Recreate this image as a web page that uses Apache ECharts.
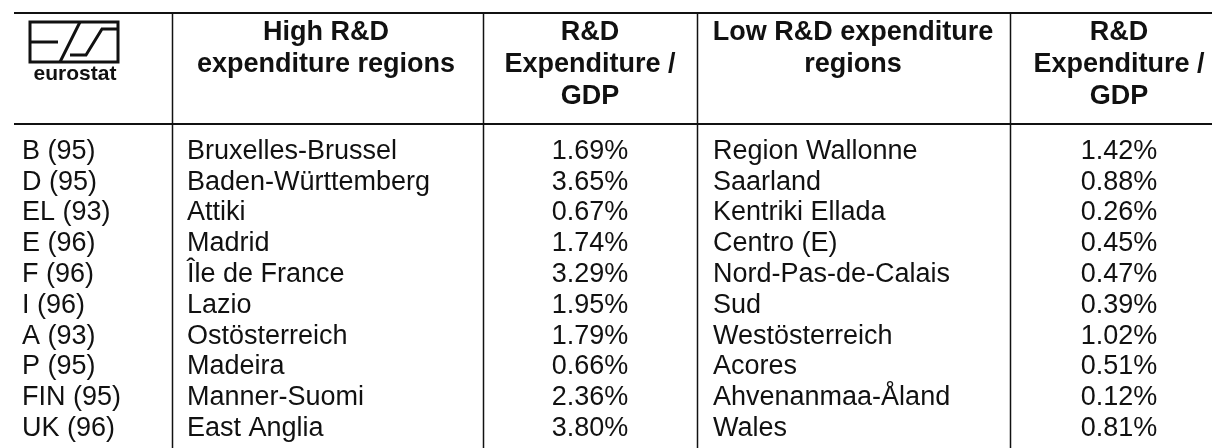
<!DOCTYPE html>
<html>
<head>
<meta charset="utf-8">
<script src="https://cdn.jsdelivr.net/npm/echarts@6/dist/echarts.min.js"></script>
<style>
html, body { margin: 0; padding: 0; background: #fff; }
#main { width: 1214px; height: 448px; }
</style>
</head>
<body>
<div id="main"></div>
<script>
// table data
var countries = ['B (95)', 'D (95)', 'EL (93)', 'E (96)', 'F (96)', 'I (96)', 'A (93)', 'P (95)', 'FIN (95)', 'UK (96)'];
var highRegions = ['Bruxelles-Brussel', 'Baden-Württemberg', 'Attiki', 'Madrid', 'Île de France', 'Lazio', 'Ostösterreich', 'Madeira', 'Manner-Suomi', 'East Anglia'];
var highValues = [1.69, 3.65, 0.67, 1.74, 3.29, 1.95, 1.79, 0.66, 2.36, 3.80];
var lowRegions = ['Region Wallonne', 'Saarland', 'Kentriki Ellada', 'Centro (E)', 'Nord-Pas-de-Calais', 'Sud', 'Westösterreich', 'Acores', 'Ahvenanmaa-Åland', 'Wales'];
var lowValues = [1.42, 0.88, 0.26, 0.45, 0.47, 0.39, 1.02, 0.51, 0.12, 0.81];
var headers = [
    [],
    ['High R&D', 'expenditure regions'],
    ['R&D', 'Expenditure /', 'GDP'],
    ['Low R&D expenditure', 'regions'],
    ['R&D', 'Expenditure /', 'GDP']
];

// layout (px)
var FONT = '"Liberation Sans", Arial, Helvetica, sans-serif';
var colLines = [172, 483, 697, 1010];
var colText = [
    {x: 22, align: 'left'},
    {x: 187, align: 'left'},
    {x: 590, align: 'center'},
    {x: 713, align: 'left'},
    {x: 1119, align: 'center'}
];
var headerCenters = [0, 326, 590, 853, 1119];
var headerRows = [33, 65, 97];

function pct(v) { return v.toFixed(2) + '%'; }

var chart = echarts.init(document.getElementById('main'));

var graphics = [];
// horizontal rules
[13, 124].forEach(function (y) {
    graphics.push({
        type: 'line', silent: true,
        shape: {x1: 14, y1: y, x2: 1212, y2: y},
        style: {stroke: '#111', lineWidth: 2}
    });
});
// vertical rules
colLines.forEach(function (x) {
    graphics.push({
        type: 'line', silent: true,
        shape: {x1: x + 0.5, y1: 13, x2: x + 0.5, y2: 448},
        style: {stroke: '#111', lineWidth: 1.5}
    });
});
// header text
headers.forEach(function (lines, c) {
    lines.forEach(function (t, r) {
        graphics.push({
            type: 'text', silent: true,
            x: headerCenters[c], y: headerRows[r],
            style: {
                text: t, fill: '#111', textAlign: 'center', textVerticalAlign: 'middle',
                font: 'bold 27px ' + FONT
            }
        });
    });
});
// eurostat logo
graphics.push({
    type: 'group', silent: true, x: 30, y: 22,
    children: [
        {type: 'rect', shape: {x: 0, y: 0, width: 88, height: 40}, style: {fill: 'none', stroke: '#111', lineWidth: 3}},
        {type: 'line', shape: {x1: 0, y1: 20, x2: 28, y2: 20}, style: {stroke: '#111', lineWidth: 3}},
        {type: 'line', shape: {x1: 30, y1: 40, x2: 50, y2: 0}, style: {stroke: '#111', lineWidth: 3}},
        {type: 'polyline', shape: {points: [[40, 33], [56, 33], [72, 7], [88, 7]]}, style: {fill: 'none', stroke: '#111', lineWidth: 3}},
        {type: 'text', x: 45, y: 52, style: {text: 'eurostat', fill: '#111', textAlign: 'center', textVerticalAlign: 'middle', font: 'bold 21px ' + FONT}}
    ]
});

chart.setOption({
    animation: false,
    grid: {left: 0, right: 0, top: 136, height: 308},
    xAxis: {type: 'value', min: 0, max: 1214, show: false},
    yAxis: {type: 'category', data: countries, inverse: true, show: false},
    graphic: graphics,
    series: [{
        type: 'custom',
        clip: false,
        encode: {x: 0, y: 1},
        data: countries.map(function (c, i) { return [0, i]; }),
        renderItem: function (params, api) {
            var i = api.value(1);
            var y = api.coord([0, i])[1];
            var cells = [countries[i], highRegions[i], pct(highValues[i]), lowRegions[i], pct(lowValues[i])];
            return {
                type: 'group',
                children: cells.map(function (t, c) {
                    return {
                        type: 'text',
                        x: api.coord([colText[c].x, i])[0],
                        y: y,
                        style: {
                            text: t, fill: '#111',
                            textAlign: colText[c].align, textVerticalAlign: 'middle',
                            font: '27px ' + FONT
                        }
                    };
                })
            };
        }
    }]
});
</script>
</body>
</html>
